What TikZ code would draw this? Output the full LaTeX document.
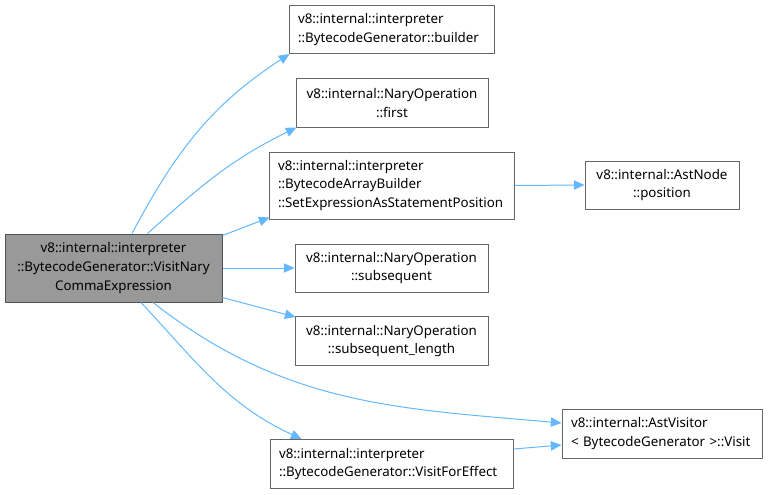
\documentclass[tikz,border=0pt]{standalone}
\usepackage{fontspec}
\setmainfont{Noto Sans}
\usepackage{xcolor}
\usetikzlibrary{arrows.meta, positioning, calc}

\definecolor{edgeblue}{HTML}{63B8FF}
\definecolor{boxgray}{HTML}{666666}
\definecolor{mainfill}{HTML}{999999}

\tikzset{
  fnbox/.style={rectangle, draw=boxgray, fill=white, line width=0.75pt,
    inner ysep=0pt, font=\fontsize{10}{14}\selectfont},
  fnleft/.style={fnbox, align=left, inner xsep=6.75pt},
  fncenter/.style={fnbox, align=center, inner xsep=0pt},
  fnmain/.style={fncenter, fill=mainfill, draw=boxgray!80!black},
  calls/.style={draw=edgeblue, line width=0.75pt, -{Triangle[length=8pt, width=7pt]}}
}

\begin{document}
\begin{tikzpicture}[x=0.75pt, y=0.75pt]
    \useasboundingbox (0,0) rectangle (768,494);

    % Nodes
    \node (VisitNary) [fnmain, minimum width=162.75pt, minimum height=51pt] at (113.5,226)
      {v8::internal::interpreter\\::BytecodeGenerator::VisitNary\\CommaExpression};
    \node (Builder) [fnleft, text width=140.25pt, minimum height=36pt] at (391.5,464.5)
      {v8::internal::interpreter\\::BytecodeGenerator::builder};
    \node (First) [fncenter, minimum width=144pt, minimum height=36pt] at (392,391)
      {v8::internal::NaryOperation\\::first};
    \node (SetPosition) [fnleft, text width=170.25pt, minimum height=50.25pt] at (391.5,308.5)
      {v8::internal::interpreter\\::BytecodeArrayBuilder\\::SetExpressionAsStatementPosition};
    \node (Position) [fncenter, minimum width=115.5pt, minimum height=36pt] at (662,309)
      {v8::internal::AstNode\\::position};
    \node (Subsequent) [fncenter, minimum width=144.75pt, minimum height=36pt] at (391.5,226)
      {v8::internal::NaryOperation\\::subsequent};
    \node (SubLength) [fncenter, minimum width=144.75pt, minimum height=36.75pt] at (391.5,153)
      {v8::internal::NaryOperation\\::subsequent\_length};
    \node (Visit) [fnleft, text width=136.5pt, minimum height=36.75pt] at (662,60.5)
      {v8::internal::AstVisitor\\< BytecodeGenerator >::Visit};
    \node (ForEffect) [fnleft, text width=168.75pt, minimum height=36.75pt] at (391.5,30)
      {v8::internal::interpreter\\::BytecodeGenerator::VisitForEffect};

    % Edges
    \draw[calls] ($(VisitNary.north)+(18.5,0)$) to[out=62, in=213] ($(Builder.south west)+(1,0)$);
    \draw[calls] ($(VisitNary.north)+(34,0)$) to[out=42, in=206] ($(First.south west)+(1,0)$);
    \draw[calls] ($(VisitNary.north east)+(0,-2)$) -- ($(SetPosition.south west)+(1,2)$);
    \draw[calls] (VisitNary.east) -- (Subsequent.west);
    \draw[calls] ($(VisitNary.south east)+(0,5)$) -- ($(SubLength.north west)+(1,-1)$);
    \draw[calls] ($(VisitNary.south)+(39.5,0)$) to[out=-38, in=175] ($(Visit.west)+(0,10.5)$);
    \draw[calls] ($(VisitNary.south)+(27.5,0)$) to[out=-47, in=155] ($(ForEffect.north west)+(32,0)$);
    \draw[calls] (SetPosition.east) -- (Position.west);
    \draw[calls] ($(ForEffect.east)+(0,15)$) -- ($(Visit.west)+(0,-11.5)$);
\end{tikzpicture}
\end{document}
